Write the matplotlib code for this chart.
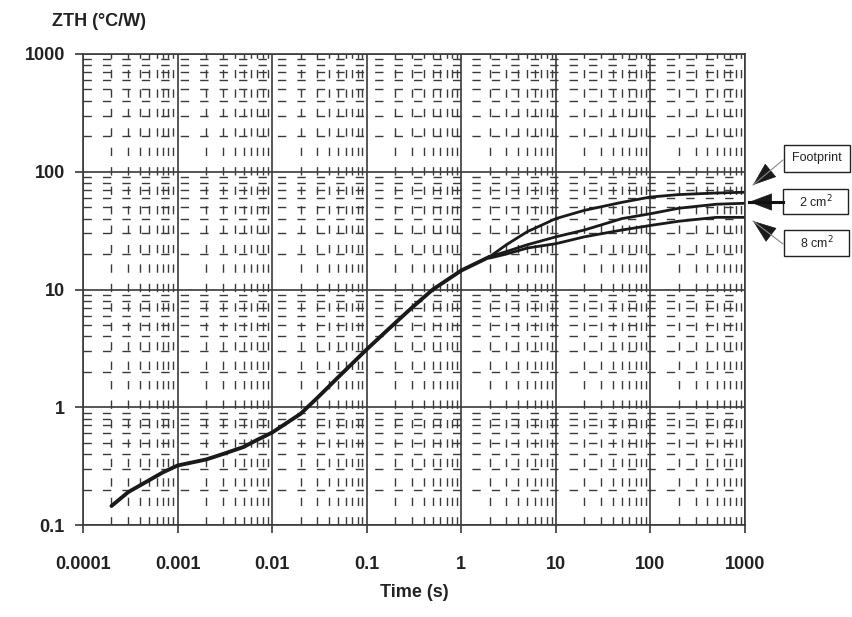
import matplotlib
matplotlib.use("Agg")
import matplotlib.pyplot as plt
from matplotlib.ticker import LogLocator, FixedLocator, FixedFormatter, NullFormatter
from matplotlib.patches import Rectangle, FancyArrowPatch, ArrowStyle
from matplotlib.lines import Line2D
import math

plt.rcParams['font.family'] = ['Liberation Sans', 'DejaVu Sans']

# ---- data ----
t_common = [2e-4, 3e-4, 5e-4, 7e-4, 1e-3, 2e-3, 3e-3, 5e-3, 7e-3, 1e-2,
            2e-2, 3e-2, 5e-2, 0.1, 0.2, 0.3, 0.5, 1, 2]
z_common = [0.145, 0.19, 0.24, 0.28, 0.32, 0.36, 0.40, 0.46, 0.53, 0.61,
            0.88, 1.2, 1.8, 3.1, 5.2, 7.0, 10, 14.5, 19]
t_tail = [2, 3, 5, 10, 20, 50, 100, 200, 500, 1000]
z_footprint = [19, 24, 31, 40, 47, 55, 61, 64, 66, 67]
z_2cm2 = [19, 21, 24, 28, 32, 40, 44, 49, 53, 54]
z_8cm2 = [18.5, 20, 22.5, 24.5, 28, 32, 35, 38, 41, 41]

x_ticks = [1e-4, 1e-3, 1e-2, 1e-1, 1, 10, 100, 1000]
x_labels = ['0.0001', '0.001', '0.01', '0.1', '1', '10', '100', '1000']
y_ticks = [0.1, 1, 10, 100, 1000]
y_labels = ['0.1', '1', '10', '100', '1000']

series_names = ['Footprint', '2 cm$^2$', '8 cm$^2$']

W, H = 852, 617
fig = plt.figure(figsize=(W / 100, H / 100), dpi=100)
ax = fig.add_axes([83 / W, 1 - 525 / H, (745 - 83) / W, (525 - 54) / H])
ax.set_xscale('log')
ax.set_yscale('log')
ax.set_xlim(1e-4, 1000)
ax.set_ylim(0.1, 1000)

gcol = '#3a3a3a'
ax.xaxis.set_minor_locator(LogLocator(base=10, subs=range(2, 10), numticks=50))
ax.yaxis.set_minor_locator(LogLocator(base=10, subs=range(2, 10), numticks=50))
ax.xaxis.set_minor_formatter(NullFormatter())
ax.yaxis.set_minor_formatter(NullFormatter())
ax.grid(which='major', color=gcol, lw=1.2, ls='-')
ax.grid(which='minor', color=gcol, lw=1.0, ls=(0, (6, 8)))
ax.tick_params(which='minor', length=0)
ax.tick_params(which='major', length=6, width=1.2, color=gcol, direction='out')
ax.tick_params(axis='x', pad=16)
ax.tick_params(axis='y', pad=7)

ax.xaxis.set_major_locator(FixedLocator(x_ticks))
ax.xaxis.set_major_formatter(FixedFormatter(x_labels))
ax.yaxis.set_major_locator(FixedLocator(y_ticks))
ax.yaxis.set_major_formatter(FixedFormatter(y_labels))
for lab in ax.get_xticklabels() + ax.get_yticklabels():
    lab.set_fontsize(13)
    lab.set_fontweight('bold')
    lab.set_color('#222222')

for s in ax.spines.values():
    s.set_color(gcol)
    s.set_linewidth(1.2)

lc = '#1a1a1a'
ax.plot(t_common, z_common, color=lc, lw=2.8, solid_capstyle='round', solid_joinstyle='round')
ax.plot(t_tail, z_footprint, color=lc, lw=2.0)
ax.plot(t_tail, z_2cm2, color=lc, lw=2.0)
ax.plot(t_tail, z_8cm2, color=lc, lw=2.0)

ax.set_xlabel('Time (s)', fontsize=13, fontweight='bold', color='#222222', labelpad=8)
fig.text(52 / W, 1 - 22 / H, 'ZTH (°C/W)', fontsize=13, fontweight='bold',
         color='#222222', ha='left', va='center')

# ---- labelled boxes with arrows ----
boxes = [  # (x0, y0, x1, y1) in pixels from top
    (784, 145, 850, 172),
    (783, 189, 848, 214),
    (784, 230, 849, 256),
]
tails = [(783, 160), (783, 202), (783, 244)]
tips = [(753, 185), (749, 202), (753, 221)]
shaft_w = [0.8, 2.2, 0.8]
shaft_c = ['#888888', '#111111', '#888888']

def fp(x, y):
    return (x / W, 1 - y / H)

for name, (x0, y0, x1, y1), tail, tip, sw, sc in zip(series_names, boxes, tails, tips, shaft_w, shaft_c):
    fx0, fy1 = fp(x0, y1)
    rect = Rectangle((fx0, fy1), (x1 - x0) / W, (y1 - y0) / H, transform=fig.transFigure,
                     facecolor='white', edgecolor='#222222', lw=1.0)
    fig.patches.append(rect)
    fig.text((x0 + x1) / 2 / W, 1 - (y0 + y1) / 2 / H, name, fontsize=9,
             ha='center', va='center', color='#222222')
    # shaft
    fig.add_artist(Line2D([tail[0] / W, tip[0] / W], [1 - tail[1] / H, 1 - tip[1] / H],
                          transform=fig.transFigure, color=sc, lw=sw))
    # head
    dx, dy = tail[0] - tip[0], tail[1] - tip[1]
    d = math.hypot(dx, dy)
    hl = 22
    base = (tip[0] + dx / d * hl, tip[1] + dy / d * hl)
    fig.add_artist(FancyArrowPatch(
        fp(*base), fp(*tip), transform=fig.transFigure,
        arrowstyle=ArrowStyle('-|>', head_length=1.2, head_width=0.45),
        mutation_scale=13, color='#1a1a1a', lw=0.5, shrinkA=0, shrinkB=0))

fig.savefig('out.png', dpi=100)
